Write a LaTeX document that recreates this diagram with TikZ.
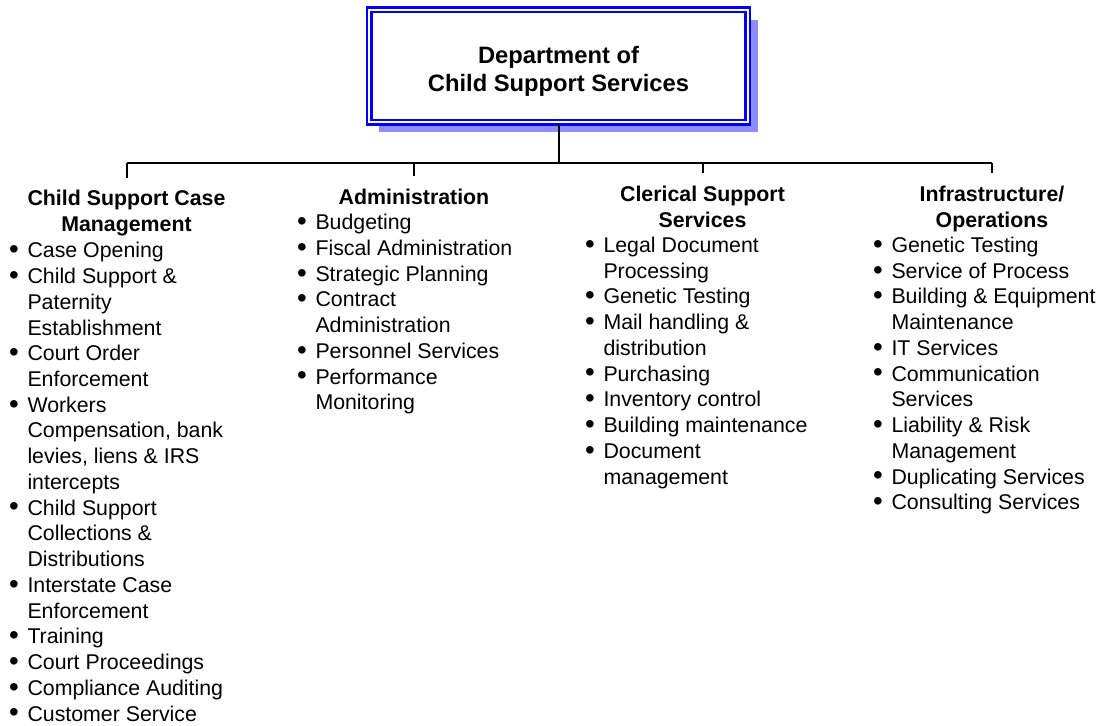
\documentclass[tikz,border=0pt]{standalone}
\usepackage{fontspec}
\setmainfont{Liberation Sans}
\usetikzlibrary{shadows}
\newcommand{\itm}{\llap{\makebox[13.75pt][l]{\raisebox{-0.6pt}{\scalebox{1.3}{\textbullet}}}}}

\begin{document}
\begin{tikzpicture}[x=0.75pt, y=-0.75pt, line width=1.5pt,
  every node/.style={font=\fontsize{16}{19.3}\selectfont},
  dept/.style={draw=blue, double=white, line width=1.9pt, double distance=1.5pt,
    fill=white, minimum width=283.6pt, minimum height=84.5pt, align=center,
    font=\bfseries\fontsize{17.8}{21.3}\selectfont,
    drop shadow={shadow xshift=7.5pt, shadow yshift=-7.5pt, fill=blue!45, opacity=1}},
  head/.style={anchor=base, align=center, inner xsep=0pt, inner ysep=9pt,
    font=\bfseries\fontsize{16}{19.3}\selectfont},
  items/.style={anchor=base west, align=left, inner sep=0pt}]
\useasboundingbox (0,0) rectangle (1102,725);

\node[dept] (top) at (558.5,66) {\rule{0pt}{21pt}Department of\\Child Support Services};
\coordinate (bus) at (558.5,163);

% base = last line of each node
\node[head] (h1) at (126.5,231.7) {Child Support Case\\Management};
\node[head] (h2) at (414,204) {Administration};
\node[head] (h3) at (702.5,227.2) {Clerical Support\\Services};
\node[head] (h4) at (992,227.2) {Infrastructure/\\Operations};

\node[items] (l1) at (26.5,721) {\itm Case Opening\\ \itm Child Support \&\\ Paternity\\ Establishment\\
  \itm Court Order\\ Enforcement\\ \itm Workers\\ Compensation, bank\\ levies, liens \& IRS\\ intercepts\\
  \itm Child Support\\ Collections \&\\ Distributions\\ \itm Interstate Case\\ Enforcement\\
  \itm Training\\ \itm Court Proceedings\\ \itm Compliance Auditing\\ \itm Customer Service};
\node[items] (l2) at (314.5,409.9) {\itm Budgeting\\ \itm Fiscal Administration\\ \itm Strategic Planning\\
  \itm Contract\\ Administration\\ \itm Personnel Services\\ \itm Performance\\ Monitoring};
\node[items] (l3) at (602.5,484.1) {\itm Legal Document\\ Processing\\ \itm Genetic Testing\\
  \itm Mail handling \&\\ distribution\\ \itm Purchasing\\ \itm Inventory control\\
  \itm Building maintenance\\ \itm Document\\ management};
\node[items] (l4) at (890.5,509.8) {\itm Genetic Testing\\ \itm Service of Process\\
  \itm Building \& Equipment\\ Maintenance\\ \itm IT Services\\ \itm Communication\\ Services\\
  \itm Liability \& Risk\\ Management\\ \itm Duplicating Services\\ \itm Consulting Services};

\draw (top.south) -- (bus);
\draw (bus -| h1.north) -- (bus -| h4.north);
\foreach \n in {h1,h2,h3,h4}
  \draw (bus -| \n.north) -- (\n.north);
\end{tikzpicture}
\end{document}
